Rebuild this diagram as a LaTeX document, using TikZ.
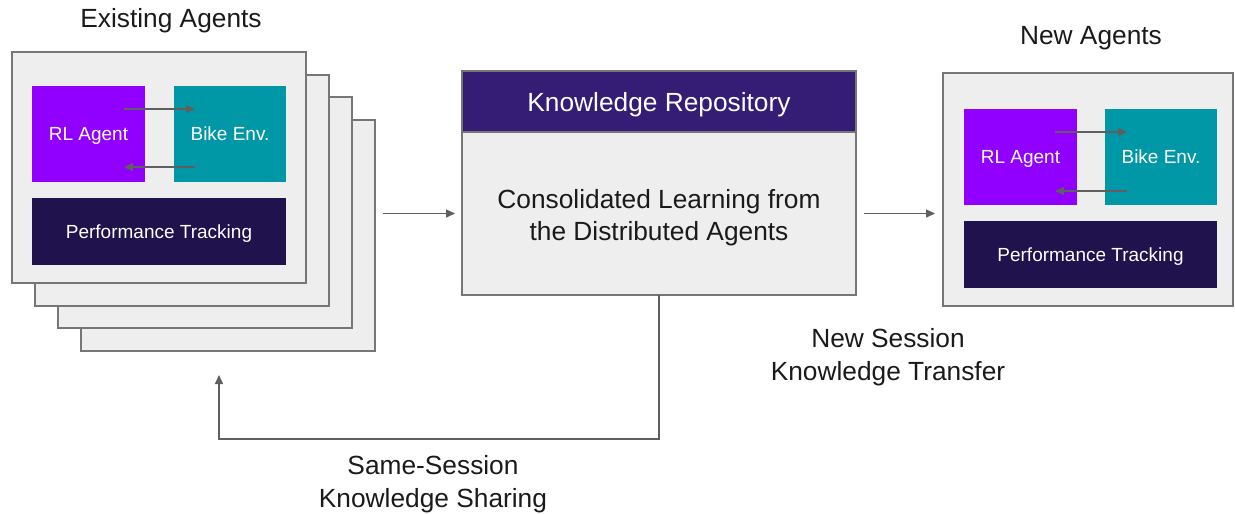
\documentclass[tikz,border=0pt]{standalone}
\usepackage{fontspec}
\setmainfont{Liberation Sans}
\usetikzlibrary{arrows.meta,calc}
\definecolor{cardfill}{HTML}{EEEEEE}
\definecolor{cardline}{HTML}{767676}
\definecolor{agentc}{HTML}{9100FF}
\definecolor{envc}{HTML}{0097A7}
\definecolor{perfc}{HTML}{20124D}
\definecolor{headc}{HTML}{351C75}
\definecolor{arrowc}{HTML}{5F5F5F}
\definecolor{textc}{HTML}{1A1A1A}
\begin{document}
\begin{tikzpicture}[x=1pt,y=-1pt,
  card/.style={draw=cardline,fill=cardfill,line width=1.5pt,inner sep=0pt,outer sep=0pt,anchor=north west},
  inbox/.style={inner sep=0pt,outer sep=0pt,anchor=north west},
  inlabel/.style={text=white,inner sep=0pt,text height=13.7pt,text depth=0pt,font=\fontsize{19}{23}\selectfont},
  title/.style={text=textc,inner sep=0pt,text height=18.9pt,text depth=0pt,font=\fontsize{26.3}{32.5}\selectfont},
  bigtext/.style={text=textc,align=center,font=\fontsize{26.3}{32.5}\selectfont},
  arr/.style={draw=arrowc,line width=1.5pt,-{Triangle[length=9pt,width=8pt]}}
  ]
\useasboundingbox (0,0) rectangle (1235,514);
% existing agents stack
\node[card,minimum width=294,minimum height=231] (c3) at (81,120) {};
\node[card,minimum width=294,minimum height=231] (c2) at (58,97) {};
\node[card,minimum width=294,minimum height=231] (c1) at (35,75) {};
\node[card,minimum width=294,minimum height=231] (c0) at (12,52) {};
\node[inbox,fill=agentc,minimum width=113,minimum height=96] (ra) at (32,86) {};
\node[inbox,fill=envc,minimum width=112,minimum height=96] (be) at (174,86) {};
\node[inbox,fill=perfc,minimum width=254,minimum height=67] (pt) at (32,198) {};
\node[inlabel] (ral) at (ra.center) {RL Agent};
\node[inlabel] (bel) at (be.center) {Bike Env.};
\node[inlabel] (ptl) at (pt.center) {Performance Tracking};
\draw[arr] ([shift={(-21,-25)}]ra.east) -- ([shift={(21,-25)}]be.west);
\draw[arr] ([shift={(21,33)}]be.west) -- ([shift={(-21,33)}]ra.east);
\node[title] (t1) at (171,18) {Existing Agents};
% knowledge repository
\node[card,minimum width=394,minimum height=163] (body) at (462,132) {};
\node[card,fill=headc,draw=cardline,minimum width=394,minimum height=61] (head) at (462,71) {};
\node[title,text=white] (headt) at ($(head.center)+(0,1)$) {Knowledge Repository};
\node[bigtext] (bodyt) at ($(body.center)+(0,4)$) {Consolidated Learning from\\the Distributed Agents};
% new agents
\node[card,minimum width=290,minimum height=233] (nc) at (943,73) {};
\node[inbox,fill=agentc,minimum width=113,minimum height=96] (ra2) at (964,109) {};
\node[inbox,fill=envc,minimum width=112,minimum height=96] (be2) at (1105,109) {};
\node[inbox,fill=perfc,minimum width=253,minimum height=67] (pt2) at (964,221) {};
\node[inlabel] (ral2) at (ra2.center) {RL Agent};
\node[inlabel] (bel2) at (be2.center) {Bike Env.};
\node[inlabel] (ptl2) at (pt2.center) {Performance Tracking};
\draw[arr] ([shift={(-22,-25)}]ra2.east) -- ([shift={(22,-25)}]be2.west);
\draw[arr] ([shift={(22,34)}]be2.west) -- ([shift={(-22,34)}]ra2.east);
\node[title] (t2) at (1091,35) {New Agents};
% connectors
\draw[arr] ($(c3.east |- body.west)+(8,0)$) -- ([xshift=-7]body.west);
\draw[arr] ([xshift=8]body.east) -- ($(nc.west |- body.east)+(-8,0)$);
\coordinate (fb) at (219,439);
\coordinate (fbend) at (219,375);
\draw[arr] (body.south) |- (fb) -- (fbend);
\node[bigtext] (l1) at (433,484) {Same-Session\\Knowledge Sharing};
\node[bigtext] (l2) at (888,357) {New Session\\Knowledge Transfer};
\end{tikzpicture}
\end{document}
